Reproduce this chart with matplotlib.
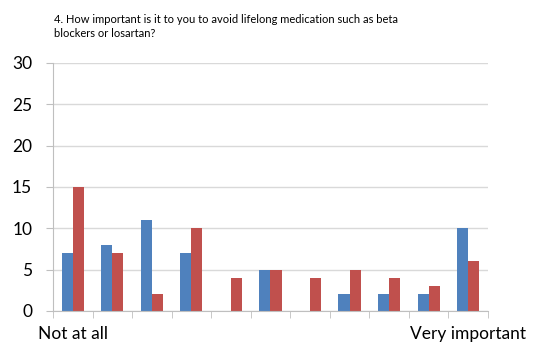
import numpy as np
import matplotlib
matplotlib.use("Agg")
from matplotlib import pyplot as plt

# Survey answers on a 0-10 scale, two groups
scale = list(range(11))
blue_counts = [7, 8, 11, 7, 0, 5, 0, 2, 2, 2, 10]
red_counts = [15, 7, 2, 10, 4, 5, 4, 5, 4, 3, 6]
tick_labels = ["Not at all", "", "", "", "", "", "", "", "", "", "Very important"]
title = ("4. How important is it to you to avoid lifelong medication such as beta\n"
         "blockers or losartan?")

plt.rcParams['font.family'] = ['Lato', 'DejaVu Sans']

fig = plt.figure(figsize=(5.44, 3.49), dpi=100)
ax = fig.add_axes([0.0974, 0.109, 0.7996, 0.7105])

x = np.array(scale)
w = 0.28
ax.bar(x - w / 2, blue_counts, width=w, color='#4F81BD')
ax.bar(x + w / 2, red_counts, width=w, color='#C0504D')

ax.set_xlim(-0.5, 10.5)
ax.set_ylim(0, 30)
ax.set_yticks(range(0, 31, 5))
ax.yaxis.grid(True, color='#d9d9d9', linewidth=1)
ax.set_axisbelow(True)

ax.set_xticks(x)
ax.set_xticklabels(tick_labels, fontsize=12.5)
ax.tick_params(axis='x', which='major', length=0, pad=11)
ax.set_xticks(np.arange(-0.5, 11, 1), minor=True)
ax.tick_params(axis='x', which='minor', length=5, color='#bfbfbf', direction='out')
ax.tick_params(axis='y', labelsize=12.5, length=5, color='#bfbfbf', pad=10)

for side in ['top', 'right']:
    ax.spines[side].set_visible(False)
for side in ['left', 'bottom']:
    ax.spines[side].set_color('#bfbfbf')

fig.text(0.1, 0.96, title, fontsize=8, ha='left', va='top', linespacing=1.3)

fig.savefig("out.png", dpi=100)
